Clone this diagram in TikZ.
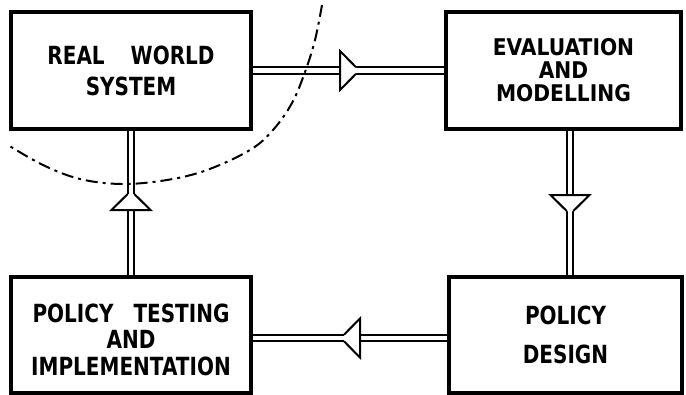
\documentclass[tikz,border=0pt]{standalone}
\usepackage{fontspec}
\setmainfont{DejaVu Sans Bold}[FakeStretch=0.8]
\newfontfamily\widerfont{DejaVu Sans Bold}[FakeStretch=0.88]
\newcommand\lowerline[1]{\raisebox{-4.5pt}[\height][\depth]{#1}}
\begin{document}
\begin{tikzpicture}[x=1pt,y=-1pt,
  box/.style={draw, line width=3.4pt, inner sep=0pt, align=center},
  dbl/.style={double, double distance=4.5pt, line width=2pt},
  harrow/.pic={
    \fill[white] (0,-19.5) -- (16,-3.3) -- (16,3.3) -- (0,19.5) -- cycle;
    \draw[line width=2pt, line join=miter] (16,-3.3) -- (0,-19.5) -- (0,19.5) -- (16,3.3);
  }]
\useasboundingbox (0,0) rectangle (686,394);
\fill[white] (0,0) rectangle (686,394);

\node[box, minimum width=240pt, minimum height=117pt, font=\fontsize{25}{31}\selectfont] (rw) at (131,70.5) {REAL\hspace{26pt}WORLD\\SYSTEM};
\node[box, minimum width=235pt, minimum height=117pt, font=\widerfont\fontsize{23}{23}\selectfont] (em) at (563.5,70.5) {EVALUATION\\AND\\MODELLING};
\node[box, minimum width=240pt, minimum height=116pt, font=\fontsize{25}{26.5}\selectfont] (pt) at (131,335) {\lowerline{POLICY\hspace{20pt}TESTING}\\\lowerline{AND}\\\lowerline{IMPLEMENTATION}};
\node[box, minimum width=233pt, minimum height=116pt, font=\fontsize{25}{39}\selectfont] (pd) at (565.5,335) {POLICY\\DESIGN};

\coordinate (xr) at (570,0);
\coordinate (yb) at (0,338);

\draw[dbl] (rw) -- (em);
\draw[dbl] (rw) -- (pt);
\draw[dbl] (em.south -| xr) -- (pd.north -| xr);
\draw[dbl] (pd.west |- yb) -- (pt.east |- yb);

\pic at (340,70.5) {harrow};
\pic[rotate=90] at (131,210) {harrow};
\pic[rotate=-90] at (570,195) {harrow};
\pic[rotate=180] at (360,338) {harrow};

\draw[line width=2pt, dash pattern=on 12pt off 5pt on 3pt off 5pt]
  plot[smooth, tension=0.6] coordinates {(322,5) (315,40) (305,72) (292,103) (273,130) (250,150) (207,170) (167,180) (122,184) (80,179) (43,165) (8,145)};
\end{tikzpicture}
\end{document}
